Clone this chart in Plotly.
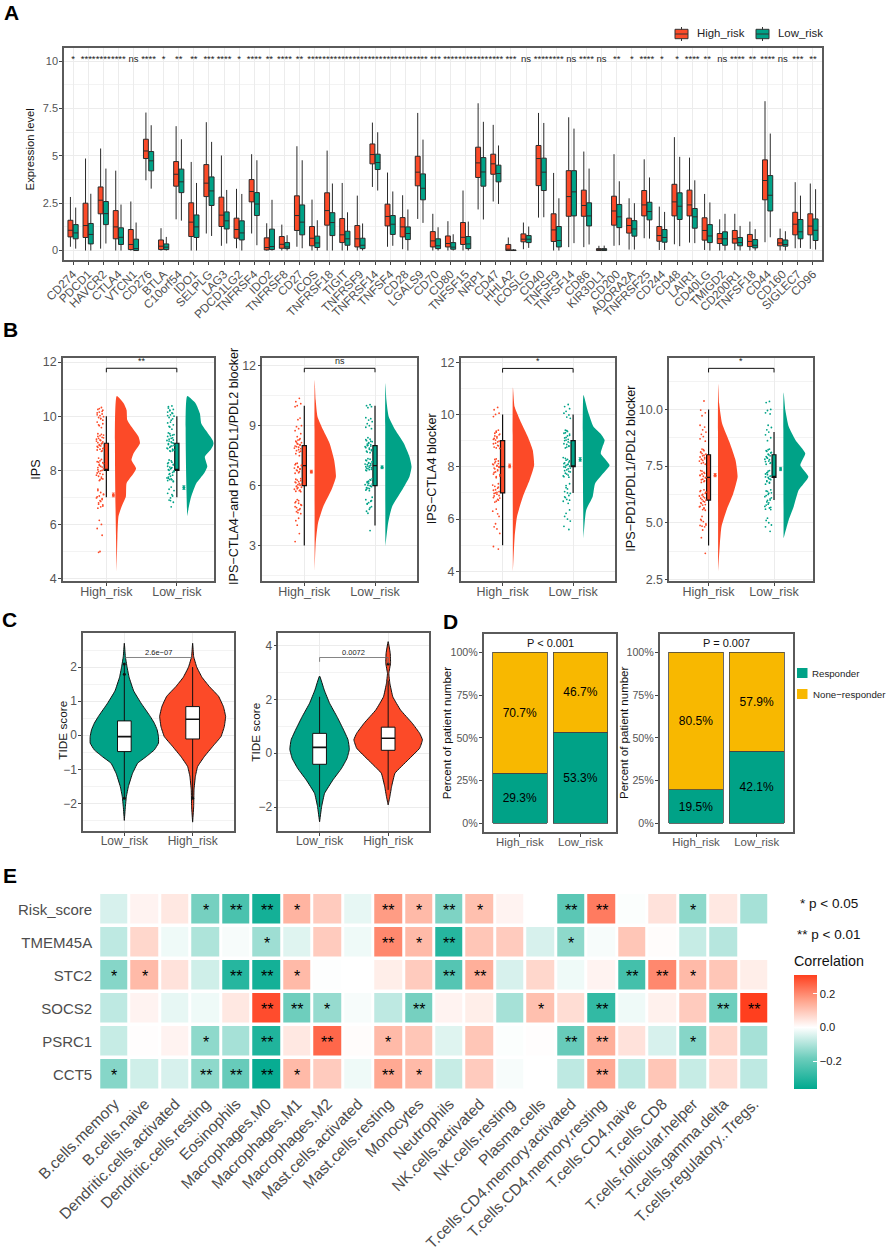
import plotly.graph_objects as go

W, H = 886, 1254
RED = '#FC4A28'
GREEN = '#00A287'
ORANGE = '#F8B800'
FONT = 'Liberation Sans'

# Panel A: immune checkpoint genes
genes = ['CD274', 'PDCD1', 'HAVCR2', 'CTLA4', 'VTCN1', 'CD276', 'BTLA', 'C10orf54', 'IDO1', 'SELPLG',
         'LAG3', 'PDCD1LG2', 'TNFRSF4', 'IDO2', 'TNFRSF8', 'CD27', 'ICOS', 'TNFRSF18', 'TIGIT', 'TNFRSF9',
         'TNFRSF14', 'TNFSF4', 'CD28', 'LGALS9', 'CD70', 'CD80', 'TNFSF15', 'NRP1', 'CD47', 'HHLA2',
         'ICOSLG', 'CD40', 'TNFSF9', 'TNFSF14', 'CD86', 'KIR3DL1', 'CD200', 'ADORA2A', 'TNFRSF25', 'CD244',
         'CD48', 'LAIR1', 'CD40LG', 'TMIGD2', 'CD200R1', 'TNFSF18', 'CD44', 'CD160', 'SIGLEC7', 'CD96']
gene_sig = ['*', '****', '****', '****', 'ns', '****', '*', '**', '**', '***',
            '****', '*', '****', '**', '****', '**', '****', '****', '****', '****',
            '****', '****', '****', '****', '***', '****', '****', '****', '****', '***',
            'ns', '****', '****', 'ns', '****', 'ns', '**', '*', '****', '*',
            '*', '****', '**', 'ns', '****', '**', '****', 'ns', '***', '**']

high_hi = [2.83, 4.86, 5.39, 4.22, 2.59, 7.29, 1.18, 6.57, 4.68, 6.78,
           5.02, 3.26, 5.09, 1.44, 1.37, 5.51, 2.69, 5.28, 3.57, 2.9,
           6.76, 4.12, 2.92, 7.27, 1.94, 1.55, 3.17, 7.78, 6.64, 0.69,
           1.48, 7.27, 4.1, 7.04, 5.23, 0.25, 5.09, 2.76, 4.82, 2.32,
           5.99, 4.91, 2.99, 1.65, 1.94, 1.53, 7.89, 1.16, 3.61, 3.54]
high_q3 = [1.6, 2.5, 3.36, 2.11, 1.11, 5.88, 0.56, 4.7, 2.52, 4.54,
           2.82, 1.71, 3.75, 0.67, 0.74, 2.89, 1.27, 3.05, 1.69, 1.32,
           5.63, 2.45, 1.74, 4.98, 1.0, 0.77, 1.48, 5.46, 5.09, 0.32,
           0.88, 5.55, 1.94, 4.22, 3.19, 0.1, 2.87, 1.71, 3.17, 1.27,
           3.5, 3.19, 1.73, 0.9, 1.06, 0.85, 4.79, 0.63, 2.02, 1.94]
high_med = [1.07, 1.32, 2.66, 1.25, 0.32, 5.26, 0.23, 4.03, 1.5, 3.56,
            1.87, 1.11, 3.12, 0.16, 0.33, 1.85, 0.65, 2.11, 0.83, 0.62,
            5.07, 1.8, 1.25, 4.14, 0.51, 0.37, 0.7, 4.63, 4.58, 0.07,
            0.6, 4.86, 1.09, 2.85, 2.38, 0.03, 2.09, 1.32, 2.41, 0.79,
            2.57, 2.41, 1.06, 0.62, 0.62, 0.48, 3.7, 0.4, 1.39, 1.29]
high_q1 = [0.72, 0.69, 1.94, 0.62, 0.05, 4.86, 0.05, 3.4, 0.74, 2.85,
           1.27, 0.65, 2.57, 0.03, 0.12, 1.06, 0.25, 1.34, 0.42, 0.19,
           4.58, 1.3, 0.72, 3.42, 0.19, 0.19, 0.32, 3.86, 4.03, 0.0,
           0.46, 3.43, 0.48, 1.81, 1.81, 0.0, 1.34, 0.92, 1.83, 0.49,
           1.83, 1.83, 0.55, 0.37, 0.39, 0.21, 2.68, 0.25, 0.83, 0.83]
high_lo = [0.2, 0.0, 0.1, 0.0, 0.0, 3.71, 0.0, 1.65, 0.0, 0.9,
           0.25, 0.12, 0.9, 0.0, 0.0, 0.2, 0.0, 0.0, 0.0, 0.0,
           3.36, 0.2, 0.07, 1.67, 0.0, 0.0, 0.0, 2.17, 2.59, 0.0,
           0.07, 1.74, 0.0, 0.18, 0.18, 0.0, 0.25, 0.05, 0.65, 0.03,
           0.33, 0.42, 0.03, 0.0, 0.02, 0.0, 0.44, 0.0, 0.12, 0.09]

low_hi = [2.27, 3.0, 4.33, 2.43, 1.48, 6.62, 0.72, 5.88, 3.57, 5.74,
          3.2, 2.99, 4.77, 2.68, 0.81, 4.77, 1.6, 3.54, 2.02, 1.43,
          6.25, 3.12, 2.17, 5.86, 1.23, 0.86, 1.53, 6.8, 5.55, 0.07,
          1.27, 6.74, 2.76, 6.44, 4.33, 0.26, 3.66, 2.5, 3.86, 2.04,
          4.95, 3.71, 2.54, 1.94, 1.3, 1.13, 6.18, 1.02, 2.9, 3.24]
low_q3 = [1.37, 1.43, 2.59, 1.2, 0.6, 5.23, 0.35, 4.3, 1.88, 3.89,
          2.04, 1.57, 3.06, 1.13, 0.42, 2.41, 0.76, 2.0, 1.02, 0.65,
          5.09, 1.85, 1.25, 4.05, 0.62, 0.42, 0.74, 4.91, 4.51, 0.03,
          0.79, 4.88, 1.27, 4.22, 2.52, 0.1, 2.43, 1.58, 2.55, 1.11,
          3.05, 2.22, 1.37, 0.99, 0.69, 0.58, 3.96, 0.56, 1.64, 1.67]
low_med = [0.93, 0.85, 1.95, 0.7, 0.1, 4.74, 0.18, 3.63, 1.25, 3.15,
           1.57, 0.93, 2.46, 0.21, 0.19, 1.5, 0.4, 1.48, 0.62, 0.28,
           4.65, 1.39, 0.9, 3.29, 0.25, 0.18, 0.35, 4.15, 4.07, 0.01,
           0.6, 4.14, 0.53, 3.1, 1.83, 0.03, 1.78, 1.14, 2.06, 0.69,
           2.34, 1.78, 0.77, 0.62, 0.42, 0.28, 2.92, 0.32, 0.99, 1.07]
low_q1 = [0.62, 0.35, 1.37, 0.32, 0.0, 4.21, 0.05, 3.06, 0.69, 2.38,
          1.14, 0.56, 1.85, 0.05, 0.1, 0.83, 0.16, 0.79, 0.28, 0.1,
          4.28, 0.85, 0.58, 2.68, 0.1, 0.07, 0.1, 3.4, 3.63, 0.0,
          0.42, 3.17, 0.19, 1.83, 1.3, 0.0, 1.21, 0.76, 1.62, 0.44,
          1.64, 1.18, 0.42, 0.28, 0.25, 0.14, 2.09, 0.23, 0.62, 0.53]
low_lo = [0.1, 0.0, 0.37, 0.0, 0.0, 3.27, 0.0, 1.58, 0.0, 0.77,
          0.37, 0.0, 0.28, 0.0, 0.0, 0.12, 0.0, 0.0, 0.0, 0.0,
          3.17, 0.25, 0.0, 1.46, 0.0, 0.0, 0.0, 1.64, 2.46, 0.0,
          0.14, 1.76, 0.0, 0.39, 0.32, 0.0, 0.28, 0.05, 0.63, 0.03,
          0.23, 0.39, 0.0, 0.0, 0.0, 0.0, 0.7, 0.0, 0.14, 0.05]

# Panel B: raincloud plots, density = value / half width
risk_groups = ['High_risk', 'Low_risk']
jitter = [-0.07, -0.12, -0.05, -0.1, -0.13, -0.06, -0.09, -0.04, -0.11, -0.08,
          -0.13, -0.05, -0.1, -0.07, -0.12, -0.04, -0.09, -0.06, -0.11, -0.14,
          -0.08, -0.05, -0.12, -0.07, -0.1, -0.13, -0.04, -0.09, -0.06, -0.11,
          -0.07, -0.13, -0.05, -0.1, -0.08, -0.12, -0.04, -0.06, -0.11, -0.09,
          -0.14, -0.07, -0.05, -0.1, -0.12, -0.08, -0.04, -0.13, -0.06, -0.09,
          -0.11, -0.05, -0.08, -0.12, -0.1, -0.07, -0.13, -0.06, -0.09, -0.11,
          -0.1, -0.06, -0.13, -0.08, -0.05, -0.11, -0.07, -0.12, -0.04, -0.09,
          -0.14, -0.06, -0.1, -0.08, -0.12, -0.05, -0.13, -0.07, -0.09, -0.11,
          -0.04, -0.1, -0.06, -0.12, -0.08, -0.13, -0.05, -0.11, -0.07, -0.09,
          -0.12, -0.04, -0.1, -0.14, -0.06, -0.08, -0.11, -0.05, -0.13, -0.07,
          -0.09, -0.12, -0.06, -0.1, -0.04]

ips_high_y = [10.32, 10.25, 10.22, 10.15, 10.12, 10.08, 10.02, 9.98, 9.95, 9.9, 9.78, 9.72, 9.65, 9.58,
              9.35, 9.3, 9.28, 9.22, 9.18, 9.15, 9.1, 9.05, 9.02, 8.98, 8.92, 8.88, 8.82, 8.78, 8.72, 8.45,
              8.4, 8.32, 8.28, 8.22, 8.15, 8.1, 8.05, 8.0, 7.95, 7.88, 7.82, 7.75, 7.68, 7.62,
              7.3, 7.18, 7.1, 7.02, 6.95, 6.88, 6.8, 6.72, 6.65, 6.6, 6.15, 6.0, 5.85, 5.6, 5.0, 4.97,
              10.28, 10.18, 10.05, 9.92, 9.85, 9.68, 9.33, 9.25, 9.2, 9.12, 9.08, 9.0, 8.95, 8.9, 8.85, 8.8,
              8.75, 8.7, 8.35, 8.3, 8.25, 8.18, 8.12, 8.02, 7.98, 7.9, 7.85, 7.78, 7.7, 7.65, 7.25, 7.12,
              7.05, 6.98, 6.92, 6.85, 6.75, 6.68]
ips_low_y = [10.38, 10.3, 10.25, 10.2, 10.15, 10.1, 10.05, 10.0, 9.95, 9.85, 9.75, 9.68, 9.6, 9.52,
             9.38, 9.32, 9.28, 9.2, 9.15, 9.1, 9.05, 9.0, 8.95, 8.9, 8.85, 8.8, 8.75, 8.7, 8.72,
             8.38, 8.3, 8.25, 8.2, 8.12, 8.08, 8.02, 7.98, 7.92, 7.85, 7.78, 7.72, 7.65, 7.6, 7.66, 7.7,
             7.38, 7.25, 7.15, 7.05, 6.98, 6.9, 6.82, 6.65,
             10.35, 10.22, 10.12, 10.02, 9.9, 9.78, 9.62, 9.35, 9.3, 9.25, 9.18, 9.12, 9.08, 9.02, 8.98, 8.92,
             8.88, 8.82, 8.78, 8.72, 8.35, 8.28, 8.22, 8.15, 8.1, 8.05, 8.0, 7.95, 7.88, 7.82, 7.75, 7.68,
             7.62, 7.58, 7.3, 7.1, 6.88]
ctla4_pd1_high_y = [10.37, 10.2, 10.1, 10.0, 9.95, 9.38, 9.3, 9.0, 8.95, 8.85, 8.75, 8.6, 8.45, 8.3, 8.22, 8.15,
                    8.08, 8.02, 7.95, 7.88, 7.8, 7.72, 7.6, 7.5, 7.12, 7.05, 7.0, 6.92, 6.85, 6.78, 6.7, 6.62,
                    6.35, 6.28, 6.2, 6.15, 6.08, 6.02, 5.95, 5.9, 5.82, 5.75, 5.7, 5.3, 5.2, 5.12, 5.02, 4.95,
                    4.85, 4.78, 4.7, 4.6, 4.37, 4.25, 4.02, 3.6, 3.2,
                    8.35, 8.28, 8.18, 8.1, 8.05, 7.98, 7.92, 7.85, 7.75, 7.68, 7.1, 7.02, 6.95, 6.88, 6.82, 6.75,
                    6.65, 6.32, 6.25, 6.18, 6.1, 6.05, 5.98, 5.92, 5.85, 5.78, 5.72, 5.25, 5.15, 5.05, 4.9, 4.8, 4.65]
ctla4_pd1_low_y = [10.05, 10.0, 9.95, 9.9, 9.4, 9.35, 9.28, 9.2, 9.1, 9.0, 8.92, 8.85, 8.4, 8.32, 8.25, 8.2,
                   8.12, 8.05, 8.0, 7.95, 7.88, 7.8, 7.72, 7.65, 7.35, 7.28, 7.2, 7.15, 7.1, 7.05, 7.0, 6.95,
                   6.9, 6.85, 6.8, 6.75, 6.35, 6.28, 6.2, 6.12, 6.05, 6.0, 5.95, 5.88, 5.82, 5.75, 5.42, 5.3,
                   5.22, 5.15, 5.08, 4.95, 4.82, 4.72, 4.62, 3.75,
                   8.3, 8.22, 8.15, 8.08, 8.02, 7.98, 7.9, 7.82, 7.75, 7.68, 7.32, 7.25, 7.18, 7.12, 7.08, 7.02,
                   6.98, 6.92, 6.88, 6.82, 6.78, 6.3, 6.22, 6.15, 6.08, 6.02, 5.98, 5.9, 5.85, 5.78, 5.25, 5.1, 4.9]
ctla4_high_y = [10.27, 10.18, 10.05, 10.0, 9.92, 9.4, 9.32, 9.25, 9.18, 9.1, 9.05, 8.98, 8.9, 8.82, 8.75, 8.7,
                8.3, 8.22, 8.15, 8.1, 8.05, 8.0, 7.95, 7.88, 7.8, 7.72, 7.65, 7.58, 7.35, 7.25, 7.18, 7.1,
                7.05, 7.0, 6.95, 6.88, 6.8, 6.72, 6.65, 6.38, 6.3, 6.2, 6.1, 5.82, 5.7, 5.62, 5.45, 4.95, 4.85,
                9.36, 9.28, 9.22, 9.15, 9.08, 9.02, 8.95, 8.88, 8.8, 8.72, 8.28, 8.2, 8.12, 8.08, 8.02, 7.98,
                7.92, 7.85, 7.78, 7.7, 7.62, 7.3, 7.22, 7.12, 7.02, 6.98, 6.9, 6.82, 6.75, 6.68]
ctla4_low_y = [10.38, 10.3, 10.22, 10.12, 10.05, 9.98, 9.9, 9.85, 9.4, 9.35, 9.28, 9.2, 9.12, 9.05, 9.0, 8.92,
               8.85, 8.78, 8.72, 8.35, 8.28, 8.22, 8.15, 8.1, 8.05, 8.0, 7.95, 7.88, 7.82, 7.75, 7.68, 7.62,
               7.35, 7.28, 7.15, 7.05, 6.98, 6.9, 6.82, 6.75, 6.68, 6.6, 6.35, 6.22, 6.1, 6.0, 5.92, 5.72, 5.6,
               9.38, 9.3, 9.25, 9.18, 9.1, 9.02, 8.95, 8.88, 8.8, 8.75, 8.32, 8.25, 8.18, 8.12, 8.08, 8.02,
               7.98, 7.92, 7.85, 7.8, 7.72, 7.65, 7.6, 7.2, 7.0, 6.85, 6.72]
pd1_high_y = [10.37, 9.97, 9.85, 9.72, 9.3, 9.22, 9.1, 9.0, 8.9, 8.8, 8.7, 8.6, 8.25, 8.18, 8.1, 8.02, 7.95,
              7.88, 7.8, 7.72, 7.65, 7.58, 7.3, 7.22, 7.15, 7.08, 7.0, 6.92, 6.85, 6.78, 6.45, 6.38, 6.3, 6.22,
              6.15, 6.08, 6.0, 5.92, 5.85, 5.78, 5.7, 5.62, 5.55, 5.28, 5.15, 5.05, 4.95, 4.88, 4.82, 4.68,
              4.34, 3.65,
              8.22, 8.12, 8.05, 7.98, 7.9, 7.82, 7.75, 7.62, 7.28, 7.18, 7.1, 7.05, 6.98, 6.9, 6.82, 6.42,
              6.35, 6.25, 6.18, 6.1, 6.02, 5.95, 5.88, 5.8, 5.72, 5.65, 5.58, 5.1, 4.9, 4.85]
pd1_low_y = [10.35, 10.3, 10.0, 9.95, 9.85, 9.8, 9.3, 9.2, 9.1, 9.0, 8.88, 8.75, 8.62, 8.25, 8.18, 8.1, 8.02,
             7.95, 7.88, 7.8, 7.72, 7.65, 7.58, 7.3, 7.22, 7.15, 7.08, 7.0, 6.92, 6.85, 6.78, 6.7, 6.45, 6.38,
             6.3, 6.2, 6.1, 6.0, 5.92, 5.82, 5.72, 5.65, 5.58, 5.2, 5.1, 5.0, 4.9, 4.82, 4.62,
             8.22, 8.15, 8.08, 8.0, 7.92, 7.85, 7.78, 7.7, 7.62, 7.28, 7.2, 7.12, 7.05, 7.02, 6.95, 6.9,
             6.82, 6.75, 6.4, 6.32, 6.25, 6.15, 6.05, 5.98, 5.88, 5.78, 5.68, 5.6]

ips_high_dens_y = [10.74, 10.47, 10.23, 9.86, 9.61, 9.24, 9.0, 8.63, 8.38, 8.07, 7.89, 7.52, 7.03, 6.66, 6.3, 5.56, 4.26]
ips_high_dens_w = [0, 0.1, 0.14, 0.15, 0.21, 0.31, 0.33, 0.24, 0.21, 0.275, 0.24, 0.14, 0.13, 0.07, 0.025, 0.01, 0]
ips_low_dens_y = [10.74, 10.47, 10.1, 9.73, 9.49, 9.24, 9.0, 8.75, 8.5, 8.14, 7.89, 7.52, 7.03, 6.66, 6.3]
ips_low_dens_w = [0, 0.12, 0.18, 0.2, 0.26, 0.33, 0.38, 0.33, 0.25, 0.285, 0.24, 0.13, 0.057, 0.024, 0]
ctla4_pd1_high_dens_y = [11.28, 10.28, 9.45, 8.78, 8.12, 7.28, 6.45, 5.78, 4.95, 4.12, 3.12, 1.7]
ctla4_pd1_high_dens_w = [0, 0.014, 0.04, 0.12, 0.21, 0.275, 0.3, 0.236, 0.12, 0.047, 0.014, 0]
ctla4_pd1_low_dens_y = [11.12, 10.28, 9.45, 8.78, 8.12, 7.45, 6.95, 6.45, 5.78, 4.95, 4.12, 2.95]
ctla4_pd1_low_dens_w = [0, 0.014, 0.047, 0.14, 0.26, 0.34, 0.37, 0.34, 0.236, 0.094, 0.038, 0]
ctla4_high_dens_y = [11.03, 10.29, 9.66, 9.15, 8.64, 8.06, 7.49, 6.85, 6.09, 5.32, 3.99]
ctla4_high_dens_w = [0, 0.024, 0.12, 0.21, 0.28, 0.3, 0.236, 0.14, 0.057, 0.024, 0]
ctla4_low_dens_y = [10.74, 10.17, 9.54, 9.28, 9.02, 8.76, 8.51, 8.06, 7.75, 7.36, 6.85, 6.34, 5.26]
ctla4_low_dens_w = [0, 0.057, 0.14, 0.236, 0.3, 0.27, 0.245, 0.37, 0.28, 0.165, 0.13, 0.038, 0]
pd1_high_dens_y = [11.12, 10.26, 9.38, 8.5, 7.76, 7.03, 6.29, 5.56, 4.82, 4.09, 2.84]
pd1_high_dens_w = [0, 0.015, 0.06, 0.18, 0.265, 0.296, 0.23, 0.128, 0.05, 0.026, 0]
pd1_low_dens_y = [10.74, 9.97, 9.24, 8.65, 8.06, 7.54, 7.03, 6.44, 5.71, 5.12, 4.31]
pd1_low_dens_w = [0, 0.026, 0.077, 0.18, 0.33, 0.255, 0.378, 0.23, 0.153, 0.077, 0]

# box stats as [low whisker, q1, median, q3, high whisker]
ips_box = [[7, 8, 8, 9, 10], [7, 8, 8, 9, 10]]
ctla4_pd1_box = [[3, 6, 7, 8, 10], [4, 6, 7, 8, 10]]
ctla4_box = [[5, 7, 8, 9, 10], [7, 8, 8, 9, 10]]
pd1_box = [[4, 6, 7, 8, 10], [6, 7, 7, 8, 9]]
ips_means = [7.09, 7.36]
ctla4_pd1_means = [6.7, 6.92]
ctla4_means = [8.03, 8.28]
pd1_means = [7.1, 7.37]

# Panel C: TIDE violins
tide1_low_y = [2.7, 2.31, 2.0, 1.7, 1.3, 0.94, 0.55, 0.35, 0.16, -0.04, -0.23, -0.43, -0.63, -0.82, -1.12, -1.5, -1.8, -2.1, -2.5]
tide1_low_w = [0, 0.015, 0.04, 0.07, 0.137, 0.245, 0.38, 0.44, 0.48, 0.5, 0.5, 0.44, 0.32, 0.195, 0.12, 0.06, 0.03, 0.015, 0]
tide1_high_y = [2.7, 2.31, 2.0, 1.7, 1.43, 1.14, 0.84, 0.55, 0.25, -0.04, -0.33, -0.63, -0.92, -1.21, -1.6, -2.1, -2.55]
tide1_high_w = [0, 0.015, 0.06, 0.137, 0.244, 0.38, 0.45, 0.483, 0.463, 0.415, 0.293, 0.17, 0.073, 0.04, 0.02, 0.015, 0]
tide2_low_y = [2.87, 2.35, 1.86, 1.36, 0.87, 0.5, 0.15, -0.19, -0.56, -0.99, -1.49, -1.98, -2.55]
tide2_low_w = [0, 0.068, 0.146, 0.254, 0.35, 0.415, 0.434, 0.4, 0.32, 0.195, 0.073, 0.03, 0]
tide2_high_y = [4.15, 3.72, 3.35, 2.97, 2.6, 2.1, 1.61, 1.12, 0.74, 0.5, 0.19, -0.25, -0.74, -1.24, -1.61, -1.92]
tide2_high_w = [0, 0.03, 0.035, 0.01, 0.025, 0.068, 0.18, 0.35, 0.46, 0.5, 0.46, 0.29, 0.1, 0.05, 0.025, 0]
tide1_box = [[-1.85, -0.48, -0.04, 0.42, 2.1], [-1.85, -0.11, 0.47, 0.84, 2.0]]
tide2_box = [[-2.0, -0.41, 0.22, 0.74, 2.1], [-1.36, 0.11, 0.56, 0.97, 2.7]]
tide1_outliers_x = [1, 1, 1, 2]
tide1_outliers_y = [2.09, 1.79, -1.85, -1.85]
tide2_outliers_x = [2]
tide2_outliers_y = [3.32]
tide_groups = ['Low_risk', 'High_risk']

# Panel D: response rates
responder_1 = [29.3, 53.3]
none_responder_1 = [70.7, 46.7]
responder_2 = [19.5, 42.1]
none_responder_2 = [80.5, 57.9]

# Panel E: correlation heatmap
hm_rows = ['Risk_score', 'TMEM45A', 'STC2', 'SOCS2', 'PSRC1', 'CCT5']
hm_cols = ['B.cells.memory', 'B.cells.naive', 'Dendritic.cells.activated', 'Dendritic.cells.resting',
           'Eosinophils', 'Macrophages.M0', 'Macrophages.M1', 'Macrophages.M2', 'Mast.cells.activated',
           'Mast.cells.resting', 'Monocytes', 'Neutrophils', 'NK.cells.activated', 'NK.cells.resting',
           'Plasma.cells', 'T.cells.CD4.memory.activated', 'T.cells.CD4.memory.resting', 'T.cells.CD4.naive',
           'T.cells.CD8', 'T.cells.follicular.helper', 'T.cells.gamma.delta', 'T.cells.regulatory..Tregs.']
hm_values = [
    [-.05, .02, .04, -.17, -.24, -.33, .13, .09, -.03, .17, .12, -.16, .11, .02, 0, -.21, .22, -.005, .05, -.14, .04, -.11],
    [-.08, .07, -.02, -.1, -.01, -.12, -.04, .09, -.02, .2, .12, -.3, .1, .09, -.05, -.14, -.01, .1, .005, -.07, -.09, 0],
    [-.15, .12, .05, -.06, -.3, -.33, .12, -.003, 0, .03, .09, -.22, .14, -.05, .07, -.02, .02, -.25, .2, .12, .1, .03],
    [-.08, .02, -.03, -.02, .04, .29, -.18, -.13, -.01, -.08, -.17, .02, .03, -.11, .11, .06, -.28, -.02, .025, .09, -.18, .31],
    [-.07, .003, .02, -.14, -.11, -.31, .04, .25, .005, .12, .1, -.04, .1, -.005, .003, -.19, .14, .05, -.05, -.15, .07, -.11],
    [-.15, -.06, -.05, -.14, -.19, -.35, .12, .09, -.02, .15, .12, -.07, .09, -.01, 0, -.08, .15, -.08, .1, -.07, .06, -.08],
]
hm_stars = [
    ['', '', '', '*', '**', '**', '*', '', '', '**', '*', '**', '*', '', '', '**', '**', '', '', '*', '', ''],
    ['', '', '', '', '', '*', '', '', '', '**', '*', '**', '', '', '', '*', '', '', '', '', '', ''],
    ['*', '*', '', '', '**', '**', '*', '', '', '', '', '**', '**', '', '', '', '', '**', '**', '*', '', ''],
    ['', '', '', '', '', '**', '**', '*', '', '', '**', '', '', '', '*', '', '**', '', '', '', '**', '**'],
    ['', '', '', '*', '', '**', '', '**', '', '*', '', '', '', '', '', '**', '**', '', '', '*', '', ''],
    ['*', '', '', '**', '**', '**', '*', '', '', '**', '*', '', '', '', '', '', '**', '', '', '', '', ''],
]

fig = go.Figure()
layout_axes = {}
annotations = []
shapes = []


def px_x(x):
    return x / W


def px_y(y):
    return 1 - y / H


def page_text(text, x, y, size, color='#111111', angle=0, anchor='center', weight_bold=False):
    annotations.append(dict(x=px_x(x), y=px_y(y), xref='paper', yref='paper', showarrow=False, textangle=angle,
                            text=f'<b>{text}</b>' if weight_bold else text, xanchor=anchor, yanchor='middle',
                            font=dict(size=size, color=color)))


def add_axes(n, box, xrange, yrange, xticks=None, xlabels=None, ydtick=None, yminor=None,
             tick_size=12.5, yticktext=None):
    # box is left, right, top, bottom in page pixels
    left, right, top, bottom = box
    layout_axes[f'xaxis{n}'] = dict(
        domain=[px_x(left), px_x(right)], range=xrange, anchor=f'y{n}', showline=True, mirror=True,
        linecolor='#5a5a5a', linewidth=1.5, showgrid=True, gridcolor='#ececec', gridwidth=1, zeroline=False,
        tickmode='array', tickvals=xticks, ticktext=xlabels, ticks='outside', ticklen=3, tickcolor='#444',
        tickfont=dict(size=tick_size, color='#555555'), automargin=False, ticklabelstandoff=-5)
    layout_axes[f'yaxis{n}'] = dict(
        domain=[px_y(bottom), px_y(top)], range=yrange, anchor=f'x{n}', showline=True, mirror=True,
        linecolor='#5a5a5a', linewidth=1.5, showgrid=True, gridcolor='#ececec', gridwidth=1, zeroline=False,
        dtick=ydtick, ticks='outside', ticklen=3, tickcolor='#444',
        tickfont=dict(size=tick_size, color='#555555'), automargin=False, ticklabelstandoff=-1,
        minor=dict(showgrid=True, gridcolor='#f3f3f3', gridwidth=0.8, dtick=yminor) if yminor else None)
    if yticktext:
        layout_axes[f'yaxis{n}'].update(tickmode='array', tickvals=yticktext[0], ticktext=yticktext[1])
        layout_axes[f'yaxis{n}'].pop('dtick')


def density_trace(n, center_x, dens_y, dens_w, color, side):
    # side=1 half violin starting right of the box, side=0 mirrored full violin
    if side:
        xs = [center_x + 0.147 + w for w in dens_w] + [center_x + 0.147, center_x + 0.147]
        ys = list(dens_y) + [dens_y[-1], dens_y[0]]
        line = dict(width=0, color=color, shape='spline', smoothing=0.5)
    else:
        xs = [center_x + w for w in dens_w] + [center_x - w for w in reversed(dens_w)]
        ys = list(dens_y) + list(reversed(dens_y))
        line = dict(width=1, color='#111111', shape='spline', smoothing=0.3)
    fig.add_trace(go.Scatter(x=xs, y=ys, mode='lines', fill='toself', fillcolor=color, line=line,
                             xaxis=f'x{n}', yaxis=f'y{n}', showlegend=False, hoverinfo='skip'))


def stats_box(n, center_x, stats, fill, line_color, width, line_w=1.2):
    fig.add_trace(go.Box(x=[center_x], lowerfence=[stats[0]], q1=[stats[1]], median=[stats[2]],
                         q3=[stats[3]], upperfence=[stats[4]], width=width, whiskerwidth=0,
                         fillcolor=fill, line=dict(color=line_color, width=line_w), offsetgroup='one',
                         alignmentgroup='one', xaxis=f'x{n}', yaxis=f'y{n}', showlegend=False, hoverinfo='skip'))


def line_box(n, center_x, stats, width):
    # box traces sit under filled scatters, so the boxes on the violins are scatter outlines
    lo, q1, med, q3, hi = stats
    half = width / 2
    common = dict(xaxis=f'x{n}', yaxis=f'y{n}', showlegend=False, hoverinfo='skip')
    fig.add_trace(go.Scatter(x=[center_x, center_x], y=[lo, hi], mode='lines', line=dict(color='#111111', width=1), **common))
    fig.add_trace(go.Scatter(x=[center_x - half, center_x + half, center_x + half, center_x - half, center_x - half],
                             y=[q1, q1, q3, q3, q1], mode='lines', fill='toself', fillcolor='white',
                             line=dict(color='#111111', width=1), **common))
    fig.add_trace(go.Scatter(x=[center_x - half, center_x + half], y=[med, med], mode='lines',
                             line=dict(color='#111111', width=1.6), **common))


# Panel A
add_axes(1, (64, 822, 48, 260), [-0.6, 49.6], [-0.5, 10.7], tick_size=11, ydtick=2.5, yminor=1.25)
layout_axes['xaxis1'].update(type='category', tickmode='linear', tickangle=-45, tickfont=dict(size=11.8, color='#4d4d4d'),
                             tickvals=None, ticktext=None, categoryorder='array', categoryarray=genes, dtick=1,
                             ticklabelstandoff=-2)
fig.add_trace(go.Box(name='High_risk', x=genes, lowerfence=high_lo, q1=high_q1, median=high_med, q3=high_q3,
                     upperfence=high_hi, whiskerwidth=0, fillcolor=RED, line=dict(color='#2b2b2b', width=1),
                     xaxis='x1', yaxis='y1', offsetgroup='high', showlegend=False))
fig.add_trace(go.Box(name='Low_risk', x=genes, lowerfence=low_lo, q1=low_q1, median=low_med, q3=low_q3,
                     upperfence=low_hi, whiskerwidth=0, fillcolor=GREEN, line=dict(color='#2b2b2b', width=1),
                     xaxis='x1', yaxis='y1', offsetgroup='low', showlegend=False))
fig.add_trace(go.Scatter(x=genes, y=[10.1] * len(genes), mode='text', text=gene_sig, textposition='middle center',
                         textfont=dict(size=9.5, color='#222222'), xaxis='x1', yaxis='y1', showlegend=False,
                         hoverinfo='skip'))
page_text('Expression level', 29.7, 149.7, 11.3, angle=-90)

# legend keys of panel A, drawn by hand to sit as tight as the reference
for label, color, left, text_x in (('High_risk', RED, 675, 695), ('Low_risk', GREEN, 756, 776)):
    mid = left + 6.5
    shapes.append(dict(type='line', xref='paper', yref='paper', x0=px_x(mid), x1=px_x(mid), y0=px_y(41), y1=px_y(27),
                       line=dict(color='#333333', width=1)))
    shapes.append(dict(type='rect', xref='paper', yref='paper', x0=px_x(left), x1=px_x(left + 13), y0=px_y(38.7),
                       y1=px_y(29.3), fillcolor=color, line=dict(color='#333333', width=1)))
    shapes.append(dict(type='line', xref='paper', yref='paper', x0=px_x(left), x1=px_x(left + 13), y0=px_y(34), y1=px_y(34),
                       line=dict(color='#333333', width=1)))
    page_text(label, text_x, 33, 11.4, color='#222222', anchor='left')

# Panel B
rain_panels = [
    (2, (63, 213.5, 357.7, 581), [0.385, 2.52], [3.91, 12.16], 'IPS', 35.7, 470, 2, 1,
     ips_high_y, ips_low_y, ips_high_dens_y, ips_high_dens_w, ips_low_dens_y, ips_low_dens_w,
     ips_box, ips_means, 11.77, 11.62, '**'),
    (3, (262.3, 417.3, 357.7, 581), [0.406, 2.598], [1.23, 12.4], 'IPS\u2212CTLA4\u2212and PD1/PDL1/PDL2 blocker', 234, 467, 3, 1.5,
     ctla4_pd1_high_y, ctla4_pd1_low_y, ctla4_pd1_high_dens_y, ctla4_pd1_high_dens_w, ctla4_pd1_low_dens_y, ctla4_pd1_low_dens_w,
     ctla4_pd1_box, ctla4_pd1_means, 11.87, 11.67, 'ns'),
    (4, (460.7, 615.3, 357.7, 581), [0.406, 2.598], [3.63, 12.17], 'IPS\u2212CTLA4 blocker', 432.3, 469, 2, 1,
     ctla4_high_y, ctla4_low_y, ctla4_high_dens_y, ctla4_high_dens_w, ctla4_low_dens_y, ctla4_low_dens_w,
     ctla4_box, ctla4_means, 11.76, 11.6, '*'),
    (5, (669.3, 813.3, 357.7, 581), [0.4, 2.6], [2.43, 12.28], 'IPS\u2212PD1/PDL1/PDL2 blocker', 630.7, 469, 2.5, 1.25,
     pd1_high_y, pd1_low_y, pd1_high_dens_y, pd1_high_dens_w, pd1_low_dens_y, pd1_low_dens_w,
     pd1_box, pd1_means, 11.81, 11.63, '*'),
]
for n, box, xr, yr, title, title_x, title_y, dt, minor, hi_y, lo_y, hi_dy, hi_dw, lo_dy, lo_dw, stats, means, top_y, tip_y, sig in rain_panels:
    add_axes(n, box, xr, yr, xticks=[1, 2], xlabels=risk_groups, ydtick=dt, yminor=minor)
    page_text(title, title_x, title_y, 12.6, angle=-90)
    if n == 5:
        layout_axes['yaxis5'].update(tickformat='.1f')
    for pos, pts, dy, dw, st, mean, color in ((1, hi_y, hi_dy, hi_dw, stats[0], means[0], RED),
                                              (2, lo_y, lo_dy, lo_dw, stats[1], means[1], GREEN)):
        density_trace(n, pos, dy, dw, color, 1)
        fig.add_trace(go.Scatter(x=[pos + j for j in jitter[:len(pts)]], y=pts, mode='markers',
                                 marker=dict(size=1.8, color=color), xaxis=f'x{n}', yaxis=f'y{n}',
                                 showlegend=False, hoverinfo='skip'))
        stats_box(n, pos, st, color, '#111111', 0.06)
        fig.add_trace(go.Scatter(x=[pos + 0.1], y=[mean], mode='markers', marker=dict(size=3, color=color),
                                 error_y=dict(type='constant', value=0.07, color=color, thickness=0.8, width=1.5),
                                 xaxis=f'x{n}', yaxis=f'y{n}', showlegend=False, hoverinfo='skip'))
    fig.add_trace(go.Scatter(x=[1, 1, 2, 2], y=[tip_y, top_y, top_y, tip_y], mode='lines',
                             line=dict(color='#111111', width=1), xaxis=f'x{n}', yaxis=f'y{n}',
                             showlegend=False, hoverinfo='skip'))
    annotations.append(dict(x=1.5, y=top_y, xref=f'x{n}', yref=f'y{n}', text=sig, showarrow=False, yanchor='bottom',
                            yshift=0, font=dict(size=9, color='#222222')))

# Panel C
tide_panels = [
    (6, (83, 234.3, 633.3, 831), [0.395, 2.61], [-2.81, 2.99], 62.7, 730, 1, 0.5,
     tide1_low_y, tide1_low_w, tide1_high_y, tide1_high_w, tide1_box, tide1_outliers_x, tide1_outliers_y,
     2.28, 2.28, 2.28, '2.6e\u221207'),
    (7, (278.3, 429.3, 633.3, 831), [0.398, 2.6], [-2.89, 4.46], 256, 731.7, 2, 1,
     tide2_low_y, tide2_low_w, tide2_high_y, tide2_high_w, tide2_box, tide2_outliers_x, tide2_outliers_y,
     3.56, 3.4, 3.32, '0.0072'),
]
for n, box, xr, yr, title_x, title_y, dt, minor, ly, lw, hy, hw, stats, ox, oy, top_y, tip_l, tip_r, label in tide_panels:
    add_axes(n, box, xr, yr, xticks=[1, 2], xlabels=tide_groups, ydtick=dt, yminor=minor, tick_size=12)
    page_text('TIDE score', title_x, title_y, 11.8, angle=-90)
    density_trace(n, 1, ly, lw, GREEN, 0)
    density_trace(n, 2, hy, hw, RED, 0)
    line_box(n, 1, stats[0], 0.2)
    line_box(n, 2, stats[1], 0.2)
    fig.add_trace(go.Scatter(x=ox, y=oy, mode='markers', marker=dict(size=3, color='#111111'), xaxis=f'x{n}',
                             yaxis=f'y{n}', showlegend=False, hoverinfo='skip'))
    fig.add_trace(go.Scatter(x=[1, 1, 2, 2], y=[tip_l, top_y, top_y, tip_r], mode='lines',
                             line=dict(color='#666666', width=0.8), xaxis=f'x{n}', yaxis=f'y{n}',
                             showlegend=False, hoverinfo='skip'))
    annotations.append(dict(x=1.5, y=top_y, xref=f'x{n}', yref=f'y{n}', text=label, showarrow=False, yanchor='bottom',
                            yshift=-1, font=dict(size=7.5, color='#222222')))

# Panel D
bar_panels = [
    (8, (483.7, 616.3, 634.3, 832.3), [0.404, 2.59], responder_1, none_responder_1, 'P < 0.001', 447.3),
    (9, (659.7, 792.7, 634.3, 832.3), [0.401, 2.593], responder_2, none_responder_2, 'P = 0.007', 624),
]
for n, box, xr, resp, none_resp, label, title_x in bar_panels:
    add_axes(n, box, xr, [-5.26, 110.5], xticks=[1, 2], xlabels=risk_groups, tick_size=10.7,
             yticktext=([0, 25, 50, 75, 100], ['0%', '25%', '50%', '75%', '100%']))
    page_text('Percent of patient number', title_x, 733, 11.5, angle=-90)
    layout_axes[f'xaxis{n}'].update(showgrid=False, tickfont=dict(size=11.4, color='#555555'))
    layout_axes[f'yaxis{n}'].update(showgrid=False, minor=None)
    for vals, color, name in ((resp, GREEN, 'Responder'), (none_resp, ORANGE, 'None\u2212responder')):
        fig.add_trace(go.Bar(x=[1, 2], y=vals, width=0.9, marker=dict(color=color, line=dict(color='#444444', width=0.8)),
                             text=[f'{v}%' for v in vals], textposition='inside', insidetextanchor='middle',
                             textangle=0, textfont=dict(size=12, color='black', family=FONT), name=name,
                             xaxis=f'x{n}', yaxis=f'y{n}', showlegend=False))
    annotations.append(dict(x=1.5, y=105.5, xref=f'x{n}', yref=f'y{n}', text=label, showarrow=False,
                            font=dict(size=11, color='#111111')))

for label, color, top, text_x in (('Responder', GREEN, 668, 810.3), ('None\u2212responder', ORANGE, 689, 811.3)):
    shapes.append(dict(type='rect', xref='paper', yref='paper', x0=px_x(797), x1=px_x(807.5), y0=px_y(top + 10), y1=px_y(top),
                       fillcolor=color, line=dict(width=0)))
    page_text(label, text_x, top + 5, 9.7, color='#222222', anchor='left')

# Panel E
fig.add_trace(go.Heatmap(
    x=hm_cols, y=hm_rows, z=hm_values, text=hm_stars, texttemplate='%{text}',
    textfont=dict(size=16, color='black'), xaxis='x10', yaxis='y10', xgap=3, ygap=3.5, zmin=-0.364, zmax=0.31,
    colorscale=[[0, '#00A98F'], [0.27, '#6CCDBC'], [0.54, '#FFFFFF'], [0.77, '#FFA68F'], [1, '#FF3F1E']],
    colorbar=dict(x=px_x(793.7), xanchor='left', y=px_y(975), yanchor='top', lenmode='pixels', len=113.7,
                  thicknessmode='pixels', thickness=22.7, xpad=0, ypad=0, outlinewidth=0, ticks='inside',
                  tickcolor='white', ticklen=4, tickvals=[-0.2, 0, 0.2], ticktext=['\u22120.2', '0.0', '0.2'],
                  tickfont=dict(size=11.2, color='#222222'))))
layout_axes['xaxis10'] = dict(domain=[px_x(99.2), px_x(769.2)], anchor='y10', tickangle=-45, showgrid=False,
                              zeroline=False, ticks='', tickfont=dict(size=15.5, color='#4d4d4d'), automargin=False)
layout_axes['yaxis10'] = dict(domain=[px_y(1091), px_y(893)], anchor='x10', autorange='reversed', showgrid=False,
                              zeroline=False, ticks='', tickfont=dict(size=15, color='#4d4d4d'), automargin=False,
                              ticklabelstandoff=6)

for letter, x, y in (('A', 11, 13), ('B', 10, 330), ('C', 9.5, 619), ('D', 450, 621), ('E', 9.5, 875)):
    page_text(letter, x, y, 21, color='black', weight_bold=True)
for text, x, y, size in (('* p < 0.05', 829, 903, 13.5), ('** p < 0.01', 828, 934, 13.5), ('Correlation', 829, 961, 14.3)):
    page_text(text, x, y, size)

fig.update_layout(
    width=W, height=H, autosize=False, margin=dict(l=0, r=0, t=0, b=0, autoexpand=False), paper_bgcolor='white',
    plot_bgcolor='white', font=dict(family=FONT, color='#222222'), boxmode='group', boxgap=0.3, boxgroupgap=0.07,
    barmode='stack', annotations=annotations, shapes=shapes, showlegend=False,
    **layout_axes,
)

fig.write_html("out.html", config={'displayModeBar': False}, post_script="document.body.style.margin='0'")
